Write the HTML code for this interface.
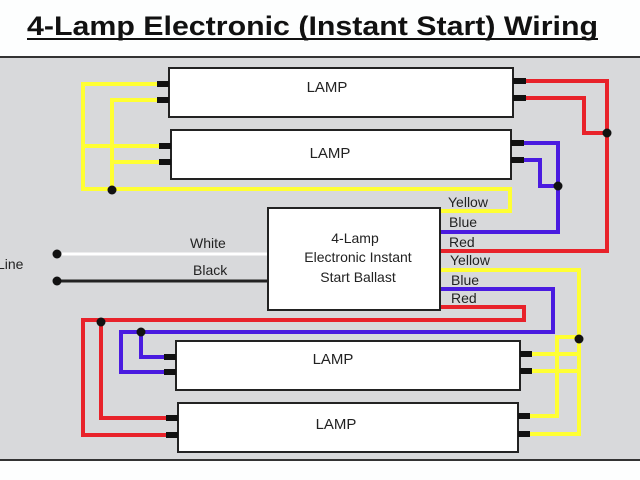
<!DOCTYPE html>
<html><head><meta charset="utf-8"><style>
html,body{margin:0;padding:0;background:#fff;}
svg{display:block;}
text{font-family:"Liberation Sans",Arial,sans-serif;}
</style></head><body>
<svg width="640" height="480" viewBox="0 0 640 480" xmlns="http://www.w3.org/2000/svg">
<rect x="0" y="0" width="640" height="480" fill="#fdfefe"/>
<text x="27" y="35" font-size="27" font-weight="bold" fill="#111" textLength="571" lengthAdjust="spacingAndGlyphs">4-Lamp Electronic (Instant Start) Wiring</text>
<line x1="27" y1="39" x2="598" y2="39" stroke="#111" stroke-width="2"/>
<rect x="0" y="57" width="640" height="403" fill="#d8d9db"/>
<line x1="0" y1="57" x2="640" y2="57" stroke="#333" stroke-width="2"/>
<line x1="0" y1="460" x2="640" y2="460" stroke="#333" stroke-width="2"/>

<g fill="none" stroke-width="4" stroke-linejoin="miter">
<g stroke="#ffff33">
<polyline points="160,84 83,84 83,189 510,189 510,211 440,211"/>
<polyline points="160,100 112,100 112,190"/>
<line x1="83" y1="146" x2="162" y2="146"/>
<line x1="112" y1="162" x2="162" y2="162"/>
</g>
<g stroke="#e8222a">
<polyline points="520,81 607,81 607,251 440,251"/>
<polyline points="520,98 584,98 584,133 607,133"/>
</g>
<g stroke="#4a1be0">
<polyline points="518,143 558,143 558,232 440,232"/>
<polyline points="518,160 540,160 540,186 558,186"/>
</g>
<g stroke="#ffff33">
<polyline points="440,270 579,270 579,434 522,434"/>
<polyline points="522,416 557,416 557,337 579,337"/>
<line x1="522" y1="354" x2="579" y2="354"/>
<line x1="522" y1="371" x2="579" y2="371"/>
</g>
<g stroke="#4a1be0">
<polyline points="440,289 553,289 553,332 121,332 121,372 168,372"/>
<polyline points="141,332 141,357 168,357"/>
</g>
<g stroke="#e8222a">
<polyline points="440,307 524,307 524,320 83,320 83,435 170,435"/>
<polyline points="101,320 101,418 170,418"/>
</g>
<line x1="57" y1="254" x2="268" y2="254" stroke="#ffffff" stroke-width="3"/>
<line x1="57" y1="281" x2="268" y2="281" stroke="#222" stroke-width="3"/>
</g>

<g fill="#fff" stroke="#222" stroke-width="2">
<rect x="169" y="68" width="344" height="49"/>
<rect x="171" y="130" width="340" height="49"/>
<rect x="176" y="341" width="344" height="49"/>
<rect x="178" y="403" width="340" height="49"/>
<rect x="268" y="208" width="172" height="102"/>
</g>
<g fill="#111">
<rect x="157" y="81" width="12" height="6"/><rect x="157" y="97" width="12" height="6"/>
<rect x="513" y="78" width="13" height="6"/><rect x="513" y="95" width="13" height="6"/>
<rect x="159" y="143" width="12" height="6"/><rect x="159" y="159" width="12" height="6"/>
<rect x="511" y="140" width="13" height="6"/><rect x="511" y="157" width="13" height="6"/>
<rect x="164" y="354" width="12" height="6"/><rect x="164" y="369" width="12" height="6"/>
<rect x="520" y="351" width="12" height="6"/><rect x="520" y="368" width="12" height="6"/>
<rect x="166" y="415" width="12" height="6"/><rect x="166" y="432" width="12" height="6"/>
<rect x="518" y="413" width="12" height="6"/><rect x="518" y="431" width="12" height="6"/>
<circle cx="112" cy="190" r="4.5"/>
<circle cx="607" cy="133" r="4.5"/>
<circle cx="558" cy="186" r="4.5"/>
<circle cx="579" cy="339" r="4.5"/>
<circle cx="141" cy="332" r="4.5"/>
<circle cx="101" cy="322" r="4.5"/>
<circle cx="57" cy="254" r="4.5"/>
<circle cx="57" cy="281" r="4.5"/>
</g>

<g font-size="15" fill="#222" text-anchor="middle">
<text x="327" y="92">LAMP</text>
<text x="330" y="158">LAMP</text>
<text x="333" y="364">LAMP</text>
<text x="336" y="429">LAMP</text>
<text x="355" y="243" font-size="14">4-Lamp</text>
<text x="358" y="262" font-size="14">Electronic Instant</text>
<text x="358" y="282" font-size="14">Start Ballast</text>
</g>
<g font-size="14" fill="#222">
<text x="448" y="207">Yellow</text>
<text x="449" y="227">Blue</text>
<text x="449" y="247">Red</text>
<text x="450" y="265">Yellow</text>
<text x="451" y="285">Blue</text>
<text x="451" y="303">Red</text>
<text x="190" y="248">White</text>
<text x="193" y="275">Black</text>
<text x="-3" y="269">Line</text>
</g>
</svg>
</body></html>
